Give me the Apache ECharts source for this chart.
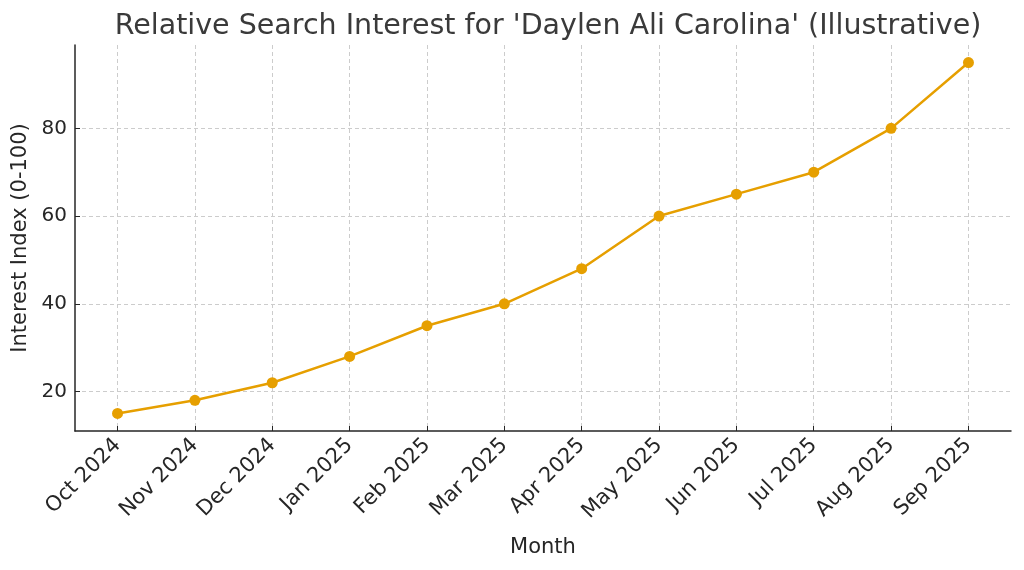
<!DOCTYPE html>
<html>
<head>
    <meta charset="utf-8">
    <script src="https://cdn.jsdelivr.net/npm/echarts@6/dist/echarts.min.js"></script>
</head>
<body style="margin:0;">
    <div id="main" style="width: 1024px;height:570px;"></div>
    <script type="text/javascript">
        // months and interest values
        var months = ['Oct 2024', 'Nov 2024', 'Dec 2024', 'Jan 2025', 'Feb 2025', 'Mar 2025',
            'Apr 2025', 'May 2025', 'Jun 2025', 'Jul 2025', 'Aug 2025', 'Sep 2025'];
        var interest = [15, 18, 22, 28, 35, 40, 48, 60, 65, 70, 80, 95];
        var yTicks = [20, 40, 60, 80];

        var font = 'DejaVu Sans';
        var myChart = echarts.init(document.getElementById('main'));

        var idx = months.map(function (m, i) { return i; });
        var points = interest.map(function (v, i) { return [i, v]; });

        var option = {
            animation: false,
            title: {
                text: "Relative Search Interest for 'Daylen Ali Carolina' (Illustrative)",
                left: 543,
                top: 7,
                textAlign: 'center',
                textStyle: { fontFamily: font, fontSize: 28.5, fontWeight: 'normal', color: '#3a3a3a' }
            },
            grid: { left: 75, right: 13, top: 45, bottom: 139 },
            xAxis: {
                type: 'value',
                min: -0.55,
                max: 11.55,
                name: 'Month',
                nameLocation: 'middle',
                nameGap: 106,
                nameTextStyle: { fontFamily: font, fontSize: 21, color: '#262626' },
                axisLine: { show: true, onZero: false, lineStyle: { color: '#262626', width: 1.5 } },
                axisTick: { show: true, inside: true, length: 5, customValues: idx,
                    lineStyle: { color: '#262626' } },
                axisLabel: {
                    customValues: idx,
                    rotate: 45,
                    margin: 11,
                    fontFamily: font, fontSize: 21, color: '#262626',
                    formatter: function (v) { return months[Math.round(v)]; }
                },
                splitLine: { show: true, lineStyle: { color: '#cccccc', type: [4, 3], width: 1 } }
            },
            yAxis: {
                type: 'value',
                min: 11,
                max: 99,
                name: 'Interest Index (0-100)',
                nameLocation: 'middle',
                nameGap: 42,
                nameTextStyle: { fontFamily: font, fontSize: 21, color: '#262626' },
                axisLine: { show: true, onZero: false, lineStyle: { color: '#262626', width: 1.5 } },
                axisTick: { show: true, inside: true, length: 5, customValues: yTicks,
                    lineStyle: { color: '#262626' } },
                axisLabel: { customValues: yTicks, margin: 8,
                    fontFamily: font, fontSize: 20, color: '#262626' },
                splitLine: { show: true, lineStyle: { color: '#cccccc', type: [4, 3], width: 1 } }
            },
            series: [{
                type: 'line',
                data: points,
                symbol: 'circle',
                symbolSize: 11,
                lineStyle: { color: '#E69F00', width: 2.5 },
                itemStyle: { color: '#E69F00' }
            }]
        };

        myChart.setOption(option);
    </script>
</body>
</html>
